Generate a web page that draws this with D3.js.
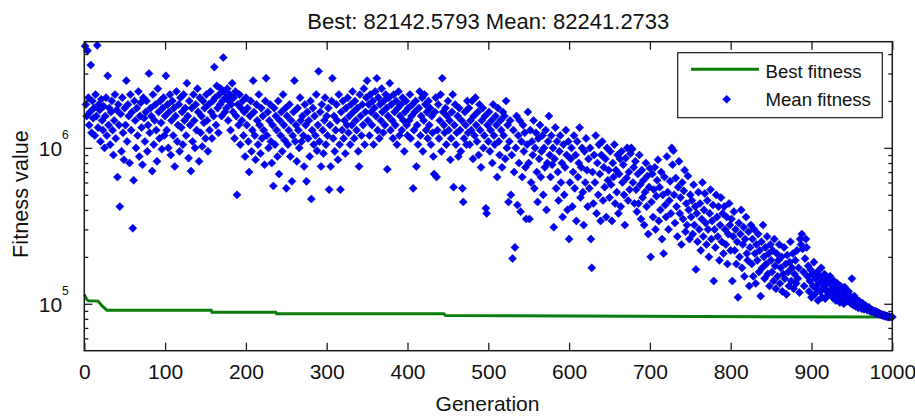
<!DOCTYPE html>
<html>
<head>
<meta charset="utf-8">
<script src="https://cdn.jsdelivr.net/npm/d3@7"></script>
<style>
  body { margin: 0; background: #fff; }
  text { font-family: "Liberation Sans", Arial, sans-serif; fill: #111; }
</style>
</head>
<body>
<svg id="chart" width="915" height="416"></svg>
<script>
// ---- data -------------------------------------------------------------
var titleText = "Best: 82142.5793 Mean: 82241.2733";
var xTicks = [0, 100, 200, 300, 400, 500, 600, 700, 800, 900, 1000];
var yMajorTicks = [1e5, 1e6];
var yMinorTicks = [6e4, 7e4, 8e4, 9e4, 2e5, 3e5, 4e5, 5e5, 6e5, 7e5, 8e5, 9e5, 2e6, 3e6, 4e6];

// best fitness (stair line), generation / value pairs
var bestGen = [0, 3, 5, 17, 22, 28, 157, 158, 237, 238, 445, 447, 1000];
var bestFitness = [115000, 107000, 104500, 104000, 97000, 91000, 91000, 88300, 88300, 86300, 86300, 84000, 82142.5793];

// mean fitness for generations 1..1000, in units of 1e5
var MEAN_UNIT = 1e5;
var meanFitness = [
  45, 19, 16, 42, 21, 14, 17, 34, 12.5, 20, 15.5, 18, 12, 22, 16, 45.5, 13.5, 19, 17.5, 11, 20.5, 15, 13, 18.5, 10,
  16, 21, 12, 29, 14, 18, 10.5, 17, 20, 13, 9, 15, 22, 11.5, 17.5, 6.5, 19, 14, 4.2, 16.5, 9.5, 21, 12.5, 8.4, 18,
  14, 27, 11, 19, 16, 8, 22, 13, 17, 3.05, 6.2, 20, 15, 10, 18, 12, 23, 8.8, 16, 19.5, 13.5, 7.8, 21, 15.5, 11,
  17, 20, 9.5, 14, 30, 12.5, 18, 16, 7.1, 22, 10.5, 15, 19, 13, 8.2, 24, 17, 11.5, 20, 14.5, 9.8, 18, 21, 12, 16,
  29, 13, 19, 10, 17, 22, 9, 15, 20, 12, 18, 7.6, 16, 23, 11, 14, 19, 9.5, 21, 13.5, 17, 10.5, 22, 15, 18,
  12, 26, 16, 8.6, 20, 14, 7.1, 18, 11, 22, 15, 10, 19, 13, 24, 17, 8.2, 21, 12.5, 16, 10.2, 20, 14.5, 18, 11.5,
  22, 15, 9.5, 19, 13, 23, 17, 11.5, 20, 16, 33, 21, 14, 25, 18, 12.5, 22, 19, 24, 16, 20, 38, 23, 17, 21,
  18, 24, 15, 20, 22, 13, 19, 26, 17, 21, 11.5, 23, 16, 5.0, 19, 14, 22, 10.5, 18, 15, 20, 12, 17, 8.8, 21,
  14, 18, 11, 7, 16, 20, 9.5, 13, 27, 17, 12, 8.4, 19, 15, 10.5, 22, 14, 9.2, 18, 11.5, 16, 13, 7.8, 20, 28,
  12, 17, 10, 15, 19, 11, 8, 14, 5.7, 18, 10.5, 16, 13, 8.8, 20, 6.8, 15, 12, 17, 9.5, 22, 14, 11.2, 18, 5.5,
  16, 10.5, 13, 19, 8.8, 15, 6.1, 12, 17, 27, 11, 14, 8.2, 18, 13, 10, 21, 15, 11, 16, 12, 7.6, 19, 14, 6.1,
  17, 11.5, 15, 8.8, 20, 4.7, 13, 18, 10.5, 16, 12, 22, 9.6, 14, 31, 11, 17, 7.6, 19, 13, 9.2, 15, 21, 10.5, 16,
  12, 18, 5.4, 14, 7.6, 20, 28, 11.5, 16, 9.5, 13, 19, 15, 8.4, 22, 10.5, 5.4, 17, 13, 20, 11.5, 15, 9.2, 18, 14,
  21, 12.5, 16, 10.5, 19, 14, 23, 17, 11.5, 20, 15, 13, 18, 9.5, 7.6, 22, 16, 12, 19, 14, 24, 10.5, 17, 21, 27,
  15, 19, 12, 22, 17, 14, 20, 10.5, 18, 23, 16, 28, 13, 21, 11.5, 19, 15, 24, 17, 12.5, 20, 14, 22, 18, 7.3,
  16, 21, 26, 13, 19, 15, 11.5, 22, 17, 14, 20, 10.5, 18, 23, 12, 16, 19, 13, 21, 15, 9.5, 17, 20, 14, 12,
  18, 15, 22, 11.5, 16, 19, 5.5, 13, 17, 20, 7.6, 14, 10.5, 18, 23, 12, 16, 21, 9.5, 15, 22, 19, 13, 17, 11.5,
  20, 14, 18, 10.5, 16, 12.5, 8.8, 6.8, 17, 21, 6.5, 13, 19, 11.5, 15, 22, 9.5, 28, 17, 14, 12.5, 18, 10.5, 16, 20,
  13, 15, 8.4, 11.5, 17, 22, 5.6, 14, 19, 10.5, 12.5, 16, 8.8, 18, 13, 9.5, 15, 5.5, 4.5, 11.5, 17, 14, 10.5, 20, 12.5,
  18, 10.5, 15, 13, 20, 8.5, 16, 12, 21, 14, 11, 17, 9, 19, 13, 7.5, 15, 18, 10, 12, 16, 4.1, 3.8, 14, 11,
  17, 9.5, 13, 15, 8, 19, 12, 10.5, 16, 14, 6.5, 18, 11, 9, 15, 13, 7.5, 17, 12, 16, 8.5, 20, 10, 14, 4.5,
  11, 15, 5, 9, 1.95, 13, 7, 2.3, 10, 16, 4.3, 12, 8, 15, 3.9, 11, 6.5, 14, 9.5, 12.5, 7.5, 3.5, 10.5, 17, 8,
  3.5, 13, 6, 11, 9, 15, 5.5, 10, 12.5, 7, 4.5, 11.5, 8.5, 14, 6.5, 9.5, 12, 5, 10, 7.5, 13, 4, 8, 11, 16,
  9, 6.5, 12, 7.8, 10, 3.1, 8.5, 13.5, 5.5, 11, 7, 4.6, 9.5, 12, 6, 8, 3.6, 10.5, 5, 7.5, 13, 9, 4, 11, 2.6,
  6, 8.5, 10, 4.2, 7, 12, 5.5, 9, 3.4, 11, 6.5, 8, 13.5, 4.8, 7.5, 10, 5.2, 3.2, 9.5, 6, 11.5, 7.2, 4.2, 8.5, 5.5,
  10, 2.6, 1.7, 7, 4.4, 9, 6, 12, 3.8, 8, 5, 10.5, 6.8, 3.4, 9, 11, 4.6, 7.5, 5.6, 8.5, 3.6, 10, 6.2, 7.2, 4.8,
  9.5, 5.8, 3.4, 8, 6.5, 10.5, 4.4, 7.2, 5.2, 9, 3.8, 6.8, 8.5, 4.2, 9.5, 6, 7.8, 5, 3.2, 8.6, 6.4, 10, 4.6, 7, 5.4,
  9.2, 10, 9.8, 6, 7.5, 4.4, 8.2, 5.4, 3.9, 6.8, 4.4, 9, 5.8, 3.5, 7.2, 4.8, 6.2, 3.2, 5.2, 8, 4.2, 6.6, 2.8, 5.6, 7.4,
  2, 4.5, 6.8, 3.6, 5.4, 7.5, 3, 4.9, 6.2, 8.4, 3.4, 5.6, 4, 7, 2.6, 5, 2.1, 6.5, 4.3, 3.6, 8.8, 5.2, 3, 4.6, 6.1,
  3.8, 10, 7.8, 9.6, 5, 3.3, 6.4, 4.2, 2.7, 5.6, 8.2, 3.8, 4.8, 2.4, 6, 3.5, 5.3, 7.2, 2.9, 4.4, 3.2, 6.6, 4, 2.6, 5,
  3.6, 4.6, 2.8, 5.8, 3.2, 4.2, 1.66, 3.8, 2.5, 5.2, 3, 4.4, 2.2, 3.5, 6, 2.7, 4, 5.1, 3.3, 2.4, 4.6, 3, 2, 3.8, 5.4,
  2.6, 3.4, 4.3, 1.4, 3, 2.3, 5, 3.6, 2.7, 4.2, 1.9, 3.2, 4.8, 2.5, 3.8, 2.1, 4.2, 3, 2.4, 3.6, 1.8, 2.8, 4.4, 3.2, 2.2,
  3.5, 1.4, 2.7, 3.9, 2.2, 3, 1.8, 2.5, 1.1, 3.3, 2, 2.8, 4, 1.7, 2.4, 3.1, 1.5, 2.6, 3.6, 2.1, 1.9, 2.9, 1.3, 2.3, 3.2,
  1.8, 2.6, 1.5, 3, 2.1, 1.35, 2.4, 1.9, 2.8, 1.6, 2.2, 1.12, 2.5, 1.7, 3.2, 2, 1.45, 2.3, 1.8, 2.7, 1.55, 2.1, 1.3, 2.4, 1.9,
  1.6, 2.2, 1.4, 2.6, 1.75, 1.25, 2.1, 1.5, 1.9, 2.4, 1.35, 1.7, 2, 1.2, 1.55, 2.3, 1.45, 1.8, 1.15, 2.05, 1.6, 1.3, 1.85, 2.5, 1.4,
  1.7, 2.1, 1.25, 1.55, 1.9, 1.35, 2.2, 1.45, 1.7, 1.18, 2.6, 2.4, 2.8, 2.25, 1.6, 1.3, 1.95, 2.6, 2.3, 1.5, 1.75, 1.2, 1.4, 1.65, 1.1,
  1.55, 1.3, 1.85, 1.15, 1.45, 1.25, 1.6, 1.05, 1.35, 1.5, 1.2, 1.7, 1.1, 1.4, 1.28, 1.55, 1.08, 1.32, 1.2, 1.45, 1.15, 1.38, 1.5, 1.42, 1.25,
  1.1, 1.3, 1.4, 1.18, 1.05, 1.25, 1.35, 1.12, 1.2, 1.02, 1.3, 1.15, 1.08, 1.22, 1.0, 1.28, 1.1, 1.18, 1.04, 1.14, 1.2, 1.06, 1.12, 1.0, 1.45,
  1.08, 0.98, 1.12, 1.03, 0.96, 1.06, 1.0, 0.94, 1.04, 0.97, 0.99, 0.93, 1.01, 0.95, 0.92, 0.98, 0.94, 0.96, 0.91, 0.93, 0.95, 0.9, 0.92, 0.89, 0.91,
  0.9, 0.88, 0.9, 0.87, 0.89, 0.86, 0.88, 0.86, 0.87, 0.85, 0.86, 0.85, 0.84, 0.85, 0.84, 0.83, 0.84, 0.83, 0.83, 0.82, 0.83, 0.823, 0.822, 0.8224, 0.8224
];
var generations = d3.range(1, meanFitness.length + 1);

// ---- layout -----------------------------------------------------------
var svg = d3.select("#chart");
var plotLeft = 84.3, plotRight = 892.3, plotTop = 41.7, plotBottom = 350.7;

var x = d3.scaleLinear().domain([0, 1000]).range([plotLeft, plotRight]);
var y = d3.scaleLog().domain([5e4, 4.8e6]).range([plotBottom, plotTop]);

var axisColor = "#1a1a1a";
var fontFamily = "'Liberation Sans', Arial, sans-serif";

// best fitness line
var bestData = bestGen.map(function(g, i) { return { g: g, v: bestFitness[i] }; });
var line = d3.line()
    .x(function(d) { return x(d.g); })
    .y(function(d) { return y(d.v); });

svg.append("path")
    .datum(bestData)
    .attr("d", line)
    .attr("fill", "none")
    .attr("stroke", "#0a7d0a")
    .attr("stroke-width", 3);

// mean fitness diamonds
var meanData = generations.map(function(g, i) { return { g: g, v: meanFitness[i] * MEAN_UNIT }; });
var diamond = d3.symbol().type(d3.symbolSquare).size(33);

svg.append("g")
    .selectAll("path")
    .data(meanData)
    .enter()
    .append("path")
    .attr("d", diamond)
    .attr("transform", function(d) { return "translate(" + x(d.g) + "," + y(d.v) + ") rotate(45)"; })
    .attr("fill", "#0000ff")
    .attr("stroke", "#0a0a99")
    .attr("stroke-width", 0.5);

// ---- axes -------------------------------------------------------------
var styleAxis = function(g) {
    g.select(".domain").remove();
    g.selectAll(".tick line").attr("stroke", axisColor).attr("stroke-width", 1.3);
};

// bottom
var xAxis = svg.append("g")
    .attr("transform", "translate(0," + plotBottom + ")")
    .call(d3.axisBottom(x).tickValues(xTicks).tickSizeInner(-8).tickSizeOuter(0).tickFormat(d3.format("d")));
styleAxis(xAxis);
xAxis.selectAll("text")
    .attr("y", 28).attr("dy", null)
    .style("font-size", "21px")
    .style("font-family", fontFamily)
    .attr("fill", "#111");

// top
var xTop = svg.append("g")
    .attr("transform", "translate(0," + plotTop + ")")
    .call(d3.axisTop(x).tickValues(xTicks).tickSizeInner(-8).tickSizeOuter(0).tickFormat(""));
styleAxis(xTop);

// left major + minor
var yLeft = svg.append("g")
    .attr("transform", "translate(" + plotLeft + ",0)")
    .call(d3.axisLeft(y).tickValues(yMajorTicks).tickSizeInner(-8).tickSizeOuter(0));
styleAxis(yLeft);
yLeft.selectAll("text").each(function(d) {
    var t = d3.select(this);
    t.text(null)
        .attr("x", -15.5).attr("y", 8).attr("dy", null)
        .attr("text-anchor", "end")
        .style("font-family", fontFamily)
        .attr("fill", "#111");
    t.append("tspan").style("font-size", "21px").text("10");
    t.append("tspan").style("font-size", "12px").attr("dy", -17).text(Math.round(Math.log10(d)));
});

var yLeftMinor = svg.append("g")
    .attr("transform", "translate(" + plotLeft + ",0)")
    .call(d3.axisLeft(y).tickValues(yMinorTicks).tickSizeInner(-4).tickSizeOuter(0).tickFormat(""));
styleAxis(yLeftMinor);

// right major + minor
var yRight = svg.append("g")
    .attr("transform", "translate(" + plotRight + ",0)")
    .call(d3.axisRight(y).tickValues(yMajorTicks).tickSizeInner(-8).tickSizeOuter(0).tickFormat(""));
styleAxis(yRight);
var yRightMinor = svg.append("g")
    .attr("transform", "translate(" + plotRight + ",0)")
    .call(d3.axisRight(y).tickValues(yMinorTicks).tickSizeInner(-4).tickSizeOuter(0).tickFormat(""));
styleAxis(yRightMinor);

// box
svg.append("rect")
    .attr("x", plotLeft).attr("y", plotTop)
    .attr("width", plotRight - plotLeft).attr("height", plotBottom - plotTop)
    .attr("fill", "none")
    .attr("stroke", axisColor)
    .attr("stroke-width", 1.5);

// ---- labels -----------------------------------------------------------
svg.append("text")
    .attr("x", (plotLeft + plotRight) / 2).attr("y", 29.3)
    .attr("text-anchor", "middle")
    .style("font-size", "22px")
    .text(titleText);

svg.append("text")
    .attr("x", 487.5).attr("y", 411)
    .attr("text-anchor", "middle")
    .style("font-size", "21px")
    .text("Generation");

svg.append("text")
    .attr("transform", "translate(28,194) rotate(-90)")
    .attr("text-anchor", "middle")
    .style("font-size", "21.7px")
    .text("Fitness value");

// ---- legend -----------------------------------------------------------
var legend = svg.append("g");
legend.append("rect")
    .attr("x", 677.7).attr("y", 52.7)
    .attr("width", 204.6).attr("height", 65)
    .attr("fill", "#fff")
    .attr("stroke", axisColor)
    .attr("stroke-width", 1.2);
legend.append("line")
    .attr("x1", 691).attr("x2", 759)
    .attr("y1", 69.3).attr("y2", 69.3)
    .attr("stroke", "#0a7d0a")
    .attr("stroke-width", 3);
legend.append("text")
    .attr("x", 765.5).attr("y", 78.3)
    .style("font-size", "18.6px")
    .text("Best fitness");
legend.append("path")
    .attr("d", diamond)
    .attr("transform", "translate(726.7,99.3) rotate(45)")
    .attr("fill", "#0000ff")
    .attr("stroke", "#0a0a99")
    .attr("stroke-width", 0.5);
legend.append("text")
    .attr("x", 765.5).attr("y", 106)
    .style("font-size", "18.6px")
    .text("Mean fitness");
</script>
</body>
</html>
